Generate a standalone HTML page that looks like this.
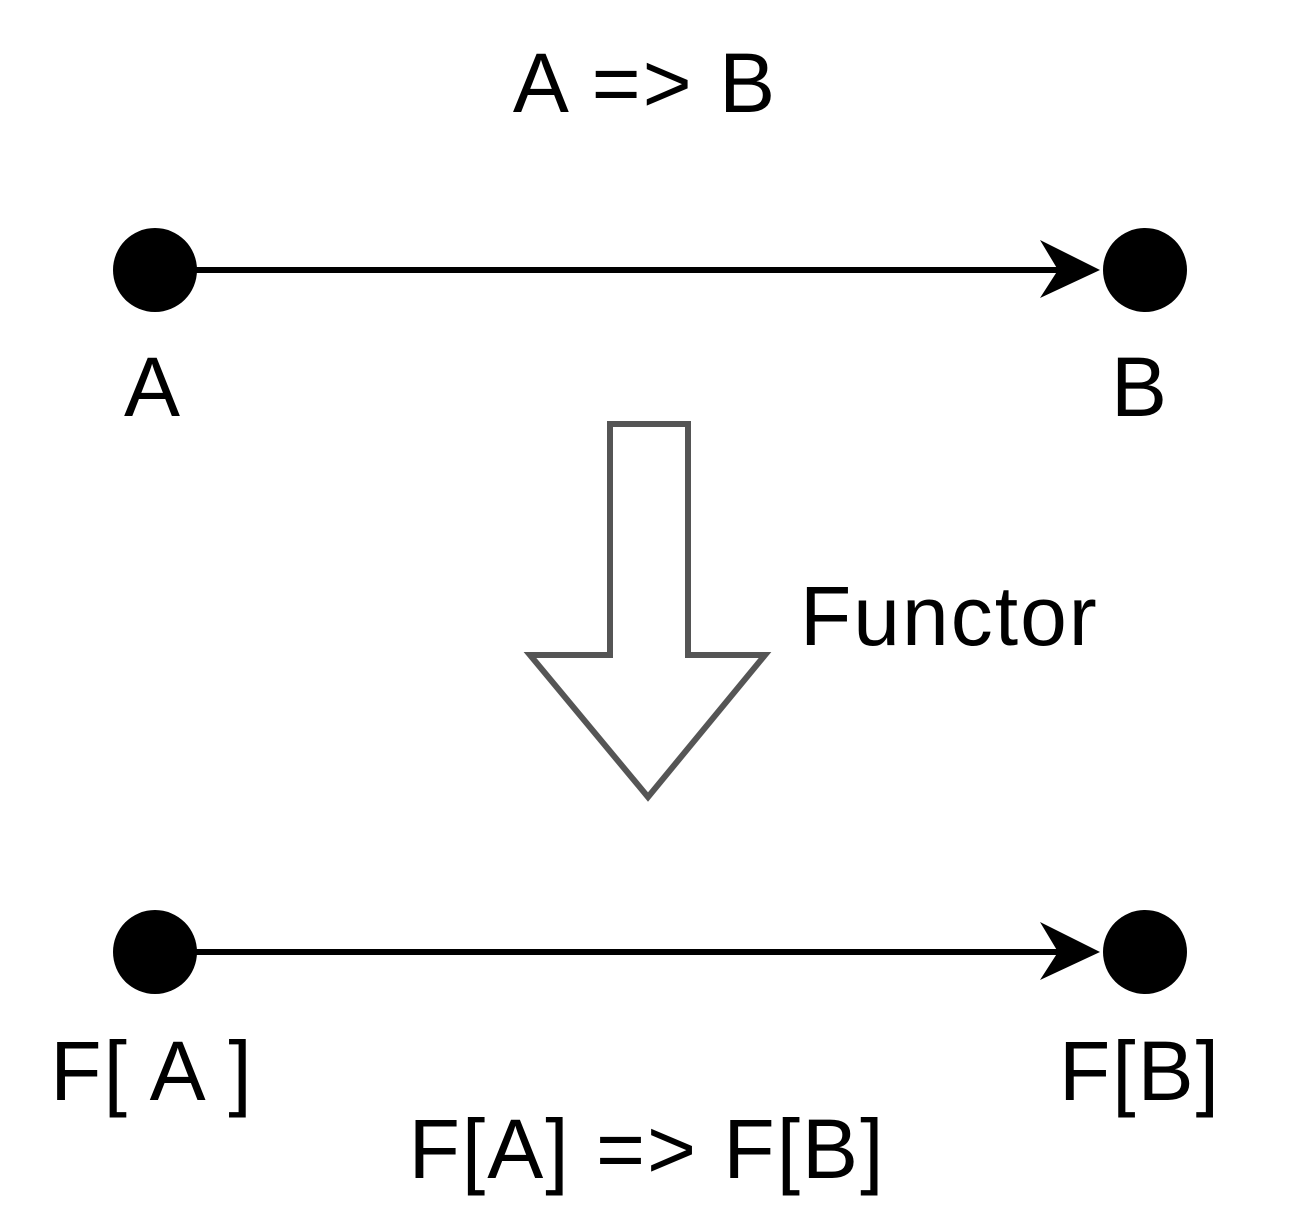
<!DOCTYPE html>
<html><head><style>html,body{margin:0;padding:0;background:#fff}</style></head>
<body>
<svg width="1300" height="1224" viewBox="0 0 1300 1224" xmlns="http://www.w3.org/2000/svg" font-family="Liberation Sans, Arial, sans-serif" font-size="84" letter-spacing="2" fill="#000">
<rect width="1300" height="1224" fill="#fff"/>
<text x="645" y="112" text-anchor="middle">A =&gt; B</text>
<line x1="195" y1="270" x2="1060" y2="270" stroke="#000" stroke-width="6"/>
<polygon points="1040,240 1100,270 1040,298 1058,270" fill="#000"/>
<circle cx="155" cy="270" r="42"/>
<circle cx="1145" cy="270" r="42"/>
<text x="153" y="416" text-anchor="middle">A</text>
<text x="1140" y="416" text-anchor="middle">B</text>
<polygon points="610,424 688,424 688,655 765,655 648,797 530,655 610,655" fill="#fff" stroke="#555" stroke-width="6" stroke-linejoin="miter"/>
<text x="800" y="645">Functor</text>
<line x1="195" y1="952" x2="1060" y2="952" stroke="#000" stroke-width="6"/>
<polygon points="1040,922 1100,952 1040,980 1058,952" fill="#000"/>
<circle cx="155" cy="952" r="42"/>
<circle cx="1145" cy="952" r="42"/>
<text x="152" y="1100" text-anchor="middle" xml:space="preserve">F[ A ]</text>
<text x="1140" y="1100" text-anchor="middle">F[B]</text>
<text x="647" y="1178" text-anchor="middle">F[A] =&gt; F[B]</text>
</svg>
</body></html>
